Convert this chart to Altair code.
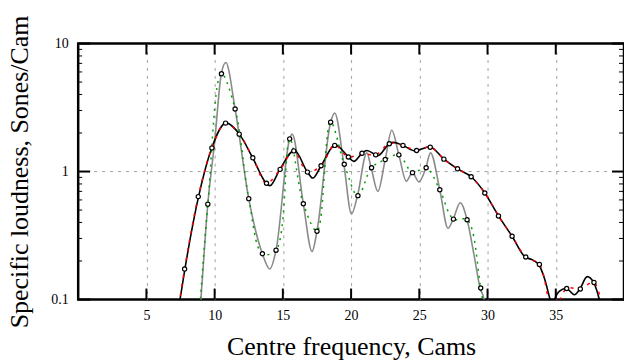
import altair as alt
import pandas as pd

# ---- fine curves ----
black_x = [6.9, 7.46, 7.82, 8.82, 9.79, 10.85, 11.81, 12.79, 13.78, 14.05, 14.78, 15.85,
           16.8, 17.19, 17.8, 18.85, 19.8, 20.2, 20.8, 21.15, 21.8, 21.96, 22.8, 23.1,
           23.8, 24.7, 25.75, 26.8, 27.8, 28.8, 29.8, 30.8, 31.8, 32.75, 33.25, 33.75,
           34.2, 34.58, 34.75, 34.92, 35.3, 35.77, 36.36, 36.77, 37.3, 37.77, 38.19, 38.5]
black_y = [0.04, 0.1, 0.173, 0.637, 1.53, 2.40, 1.96, 1.28, 0.81, 0.775, 1.04, 1.46,
           0.99, 0.89, 1.11, 1.61, 1.30, 1.20, 1.39, 1.46, 1.35, 1.33, 1.65, 1.69,
           1.60, 1.45, 1.56, 1.25, 1.05, 0.91, 0.68, 0.45, 0.312, 0.215, 0.205, 0.188,
           0.143, 0.1, 0.085, 0.1, 0.117, 0.122, 0.109, 0.121, 0.151, 0.136, 0.1, 0.07]

gray_x = [8.6, 8.99, 9.5, 10.0, 10.49, 10.82, 11.5, 12.5, 13.5, 14.04, 14.5, 15.5, 15.68,
          16.5, 17.14, 17.5, 18.5, 18.8, 19.47, 20.03, 20.47, 21.15, 21.47, 21.96, 22.5,
          22.98, 23.5, 24.05, 24.49, 24.97, 25.48, 25.82, 26.5, 27.1, 27.48, 28.0, 28.5,
          29.07, 29.45, 29.75, 30.1]
gray_y = [0.03, 0.1, 0.556, 1.7, 5.81, 7.11, 3.08, 0.614, 0.228, 0.173, 0.243, 1.80, 1.96,
          0.56, 0.237, 0.342, 2.43, 2.87, 1.14, 0.466, 0.648, 1.40, 1.07, 0.70, 1.24,
          2.10, 1.35, 0.84, 0.98, 0.83, 1.07, 1.40, 0.72, 0.36, 0.425, 0.57, 0.42,
          0.205, 0.123, 0.1, 0.05]

# ---- sampled points (circles) ----
bc_x = [6.8, 7.8, 8.8, 9.8, 10.8, 11.8, 12.8, 13.8, 14.8, 15.8, 16.8, 17.8, 18.8, 19.8,
        20.8, 21.8, 22.8, 23.8, 24.8, 25.8, 26.8, 27.8, 28.8, 29.8, 30.8, 31.8, 32.8,
        33.8, 34.8, 35.8, 36.8, 37.8, 38.8]
bc_y = [0.035, 0.173, 0.637, 1.53, 2.39, 1.96, 1.28, 0.81, 1.04, 1.45, 0.99, 1.11, 1.60,
        1.30, 1.39, 1.35, 1.65, 1.60, 1.46, 1.55, 1.25, 1.05, 0.91, 0.68, 0.45, 0.312,
        0.215, 0.188, 0.08, 0.122, 0.121, 0.136, 0.04]

gc_x = [8.5, 9.5, 10.5, 11.5, 12.5, 13.5, 14.5, 15.5, 16.5, 17.5, 18.5, 19.5, 20.5, 21.5,
        22.5, 23.5, 24.5, 25.5, 26.5, 27.5, 28.5, 29.5, 30.5]
gc_y = [0.02, 0.556, 5.81, 3.08, 0.614, 0.228, 0.243, 1.80, 0.56, 0.342, 2.43, 1.14,
        0.648, 1.07, 1.24, 1.35, 0.98, 1.07, 0.72, 0.425, 0.42, 0.123, 0.02]

# ---- ticks ----
x_ticks = [5, 10, 15, 20, 25, 30, 35]
y_major = [0.1, 1, 10]
y_minor = [0.2, 0.3, 0.4, 0.5, 0.6, 0.7, 0.8, 0.9, 2, 3, 4, 5, 6, 7, 8, 9]
y_grid = [1]

W, H = 548, 257
FONT = "Liberation Serif"

xs = alt.Scale(type="linear", domain=[0, 40], nice=False, zero=False)
ys = alt.Scale(type="log", domain=[0.1, 10], nice=False)

xaxis = alt.Axis(values=x_ticks, ticks=False, domain=False, grid=True, gridDash=[3, 5],
                 gridColor="#a0a0a0", gridWidth=1, labelFont=FONT, labelFontSize=14,
                 labelColor="black", labelPadding=9, title="Centre frequency, Cams",
                 titleFont=FONT, titleFontSize=26, titleFontWeight="normal",
                 titleColor="black", titleY=55, titleBaseline="alphabetic")
yaxis = alt.Axis(values=y_major, format="~g", ticks=False, domain=False, grid=False,
                 labelFont=FONT, labelFontSize=14, labelColor="black", labelPadding=10,
                 title="Specific loudness, Sones/Cam", titleFont=FONT, titleFontSize=26,
                 titleFontWeight="normal", titleColor="black", titleAngle=270,
                 titleX=-50.5, titleY=H / 2, titleBaseline="alphabetic")


def X():
    return alt.X("x:Q", scale=xs, axis=xaxis)


def Y():
    return alt.Y("y:Q", scale=ys, axis=yaxis)


black_df = pd.DataFrame({"x": black_x, "y": black_y})
gray_df = pd.DataFrame({"x": gray_x, "y": gray_y})
bc_df = pd.DataFrame({"x": bc_x, "y": bc_y})
gc_df = pd.DataFrame({"x": gc_x, "y": gc_y})
circles_df = pd.concat([bc_df, gc_df], ignore_index=True)

xt_df = pd.DataFrame({"x": x_ticks})
ymaj_df = pd.DataFrame({"y": y_major})
ymin_df = pd.DataFrame({"y": y_minor})
ygrid_df = pd.DataFrame({"y": y_grid})

grid_h = alt.Chart(ygrid_df).mark_rule(color="#a0a0a0", strokeDash=[3, 5], strokeWidth=1).encode(
    y=Y(), x=alt.value(0), x2=alt.value(W))

gray_line = alt.Chart(gray_df).mark_line(color="#8a8a8a", strokeWidth=1.6, clip=True,
                                         interpolate="monotone").encode(x=X(), y=Y())
black_line = alt.Chart(black_df).mark_line(color="black", strokeWidth=1.6, clip=True,
                                           interpolate="monotone").encode(x=X(), y=Y())
green_line = alt.Chart(gc_df).mark_line(color="#00a000", strokeWidth=1.5, strokeDash=[2, 5],
                                        clip=True, interpolate="catmull-rom").encode(x=X(), y=Y())
red_line = alt.Chart(bc_df).mark_line(color="#ff0000", strokeWidth=1.5, strokeDash=[3, 6],
                                      clip=True, interpolate="catmull-rom").encode(x=X(), y=Y())
circles = alt.Chart(circles_df).mark_circle(fill="white", stroke="black", strokeWidth=1.2,
                                            size=18, opacity=1, clip=True).encode(x=X(), y=Y())

tick_top = alt.Chart(xt_df).mark_rule(color="black", strokeWidth=2).encode(
    x=X(), y=alt.value(0), y2=alt.value(11))
tick_bot = alt.Chart(xt_df).mark_rule(color="black", strokeWidth=2).encode(
    x=X(), y=alt.value(H - 11), y2=alt.value(H))
tick_lmaj = alt.Chart(ymaj_df).mark_rule(color="black", strokeWidth=2).encode(
    y=Y(), x=alt.value(0), x2=alt.value(12))
tick_lmin = alt.Chart(ymin_df).mark_rule(color="black", strokeWidth=1).encode(
    y=Y(), x=alt.value(0), x2=alt.value(4))
tick_rmaj = alt.Chart(ymaj_df).mark_rule(color="black", strokeWidth=2).encode(
    y=Y(), x=alt.value(W - 12), x2=alt.value(W))
tick_rmin = alt.Chart(ymin_df).mark_rule(color="black", strokeWidth=1).encode(
    y=Y(), x=alt.value(W - 5), x2=alt.value(W))

chart = alt.layer(
    grid_h, gray_line, black_line, green_line, red_line, circles,
    tick_top, tick_bot, tick_lmaj, tick_lmin, tick_rmaj, tick_rmin
).properties(
    width=W, height=H,
    autosize=alt.AutoSizeParams(type="none"),
    padding={"left": 78.5, "top": 43, "right": 0, "bottom": 61},
    background="white",
).configure_view(stroke="black", strokeWidth=2.5)

chart.save("out.html", embed_options={"renderer": "svg", "actions": False})
